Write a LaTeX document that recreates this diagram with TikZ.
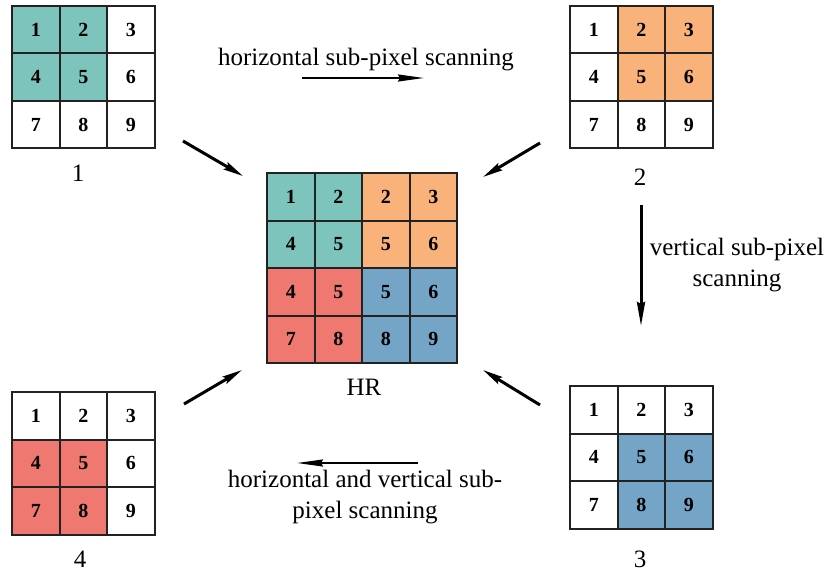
\documentclass[tikz,border=0pt]{standalone}
\usepackage{fontspec}
\setmainfont{Liberation Serif}
\usetikzlibrary{arrows.meta}
\definecolor{cteal}{HTML}{7DC4BC}
\definecolor{corange}{HTML}{F8B27A}
\definecolor{cred}{HTML}{EF7870}
\definecolor{cblue}{HTML}{74A4C6}
\definecolor{cline}{HTML}{222222}
\begin{document}
\begin{tikzpicture}[x=1pt,y=-1pt,
  cell/.style={draw=cline, line width=2pt, minimum size=47.5pt, inner sep=0pt,
    font=\fontsize{20}{23}\selectfont\bfseries},
  lbl/.style={font=\fontsize{25}{31}\selectfont, inner sep=0pt, anchor=base},
  txt/.style={font=\fontsize{25}{30.5}\selectfont, inner sep=0pt, align=center},
  diag/.style={line width=3pt, -{Stealth[length=20pt,width=8pt,inset=3pt]}},
  harr/.style={line width=2pt, -{Stealth[length=26pt,width=7pt,inset=2pt]}},
  varr/.style={line width=3pt, -{Stealth[length=24pt,width=8pt,inset=2pt]}},
  ]
\useasboundingbox (0,0) rectangle (826,572);

% grid 1 (top left)
\foreach \n/\f [count=\i from 0] in {1/cteal,2/cteal,3/white,4/cteal,5/cteal,6/white,7/white,8/white,9/white}{
  \pgfmathtruncatemacro\row{\i/3}\pgfmathtruncatemacro\col{mod(\i,3)}
  \node[cell,fill=\f] (ga\n) at ({12+(\col+0.5)*47.5},{6+(\row+0.5)*47.5}) {\n};
}
% grid 2 (top right)
\foreach \n/\f [count=\i from 0] in {1/white,2/corange,3/corange,4/white,5/corange,6/corange,7/white,8/white,9/white}{
  \pgfmathtruncatemacro\row{\i/3}\pgfmathtruncatemacro\col{mod(\i,3)}
  \node[cell,fill=\f] (gb\n) at ({570+(\col+0.5)*47.5},{6+(\row+0.5)*47.5}) {\n};
}
% grid 3 (bottom right)
\foreach \n/\f [count=\i from 0] in {1/white,2/white,3/white,4/white,5/cblue,6/cblue,7/white,8/cblue,9/cblue}{
  \pgfmathtruncatemacro\row{\i/3}\pgfmathtruncatemacro\col{mod(\i,3)}
  \node[cell,fill=\f] (gc\n) at ({570+(\col+0.5)*47.5},{386+(\row+0.5)*47.5}) {\n};
}
% grid 4 (bottom left)
\foreach \n/\f [count=\i from 0] in {1/white,2/white,3/white,4/cred,5/cred,6/white,7/cred,8/cred,9/white}{
  \pgfmathtruncatemacro\row{\i/3}\pgfmathtruncatemacro\col{mod(\i,3)}
  \node[cell,fill=\f] (gd\n) at ({12+(\col+0.5)*47.5},{392+(\row+0.5)*47.5}) {\n};
}
% HR grid (center)
\foreach \n/\f [count=\i from 0] in {1/cteal,2/cteal,2/corange,3/corange,
    4/cteal,5/cteal,5/corange,6/corange,
    4/cred,5/cred,5/cblue,6/cblue,
    7/cred,8/cred,8/cblue,9/cblue}{
  \pgfmathtruncatemacro\row{\i/4}\pgfmathtruncatemacro\col{mod(\i,4)}
  \node[cell,fill=\f] (gh\i) at ({267+(\col+0.5)*47.5},{173+(\row+0.5)*47.5}) {\n};
}

% labels
\node[lbl] (la) at (78,182) {1};
\node[lbl] (lb) at (640,185) {2};
\node[lbl] (lc) at (640,567) {3};
\node[lbl] (ld) at (80,567) {4};
\node[lbl] (lhr) at (364,395) {HR};

\node[lbl] (th) at (366,66) {horizontal sub-pixel scanning};
\node[txt] (tv) at (737,265) {vertical sub-pixel\\scanning};
\node[txt] (thv) at (365,497) {horizontal and vertical sub-\\pixel scanning};

% arrows
\coordinate (p1s) at (183,141); \coordinate (p1e) at (243,176);
\coordinate (p2s) at (540,143); \coordinate (p2e) at (483,177);
\coordinate (p3s) at (540,405); \coordinate (p3e) at (483,370);
\coordinate (p4s) at (184,404); \coordinate (p4e) at (242,370);
\coordinate (hs) at (302,78);  \coordinate (he) at (424,78);
\coordinate (vs) at (641,205); \coordinate (ve) at (641,326);
\coordinate (bs) at (418,463); \coordinate (be) at (297,463);

\draw[diag] (p1s) -- (p1e);
\draw[diag] (p2s) -- (p2e);
\draw[diag] (p3s) -- (p3e);
\draw[diag] (p4s) -- (p4e);
\draw[harr] (hs) -- (he);
\draw[varr] (vs) -- (ve);
\draw[harr] (bs) -- (be);
\end{tikzpicture}
\end{document}
